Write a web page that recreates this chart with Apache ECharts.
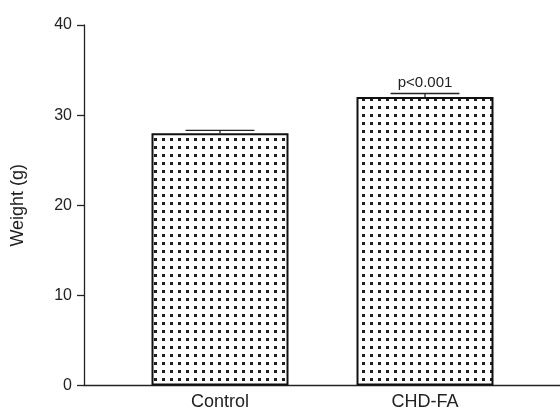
<!DOCTYPE html>
<html><head><meta charset="utf-8">
<script src="https://cdn.jsdelivr.net/npm/echarts@6/dist/echarts.min.js"></script>
<style>html,body{margin:0;padding:0;background:#fff}#c{width:560px;height:413px}</style>
</head><body><div id="c"></div>
<script>
const categories = ['Control', 'CHD-FA'];
const weights = [28.0, 32.0];
const errors = [0.3, 0.4];
const annotations = ['', 'p<0.001'];
const yMin = 0, yMax = 40, yStep = 10;

function dotPattern() {
  const c = document.createElement('canvas');
  c.width = 8; c.height = 8;
  const g = c.getContext('2d');
  g.fillStyle = '#ffffff'; g.fillRect(0, 0, 8, 8);
  g.fillStyle = '#1e1e1e'; g.fillRect(2, 2, 3, 3);
  return c;
}

const FONT = 'Liberation Sans, Arial, sans-serif';
const TXT = '#222';
const chart = echarts.init(document.getElementById('c'), null, {renderer: 'canvas'});
chart.setOption({
  animation: false,
  backgroundColor: '#fff',
  grid: [
    {left: 84, right: 0, top: 25, bottom: 27.5},
    {left: 117.5, right: 32.5, top: 25, bottom: 27.5}
  ],
  xAxis: [
    {type: 'value', gridIndex: 0, min: 0, max: 1, axisLine: {show: true, lineStyle: {color: '#222', width: 1.3}},
     axisTick: {show: false}, axisLabel: {show: false}, splitLine: {show: false}},
    {type: 'category', gridIndex: 1, data: categories, axisLine: {show: false}, axisTick: {show: false},
     axisLabel: {margin: 8, fontSize: 18, color: TXT, fontFamily: FONT}}
  ],
  yAxis: [
    {type: 'value', gridIndex: 0, min: yMin, max: yMax, interval: yStep,
     name: 'Weight (g)', nameLocation: 'middle', nameGap: 57,
     nameTextStyle: {fontSize: 18, color: TXT, fontFamily: FONT},
     axisLine: {show: true, lineStyle: {color: '#222', width: 1.3}},
     axisTick: {show: true, length: 7, lineStyle: {color: '#222', width: 1.3}},
     axisLabel: {margin: 12, fontSize: 16, color: TXT, fontFamily: FONT},
     splitLine: {show: false}},
    {type: 'value', gridIndex: 1, min: yMin, max: yMax, show: false}
  ],
  series: [
    {type: 'bar', xAxisIndex: 1, yAxisIndex: 1, data: weights, barWidth: 137,
     itemStyle: {color: {image: dotPattern(), repeat: 'repeat'}, borderColor: '#111', borderWidth: 2}},
    {type: 'custom', xAxisIndex: 1, yAxisIndex: 1, z: 5,
     data: categories.map((c, i) => [i, weights[i], errors[i]]),
     renderItem: function (params, api) {
       const x = api.value(0), v = api.value(1), e = api.value(2);
       const base = api.coord([x, v]);
       const top = api.coord([x, v + e]);
       const half = api.size([1, 0])[0] * 0.168;
       const style = {stroke: '#222', lineWidth: 1.3};
       const children = [
         {type: 'line', shape: {x1: top[0], y1: base[1], x2: top[0], y2: top[1]}, style: style},
         {type: 'line', shape: {x1: top[0] - half, y1: top[1], x2: top[0] + half, y2: top[1]}, style: style}
       ];
       const t = annotations[params.dataIndex];
       if (t) children.push({type: 'text', style: {text: t, x: top[0], y: top[1] - 3, align: 'center', verticalAlign: 'bottom',
         fontSize: 15, fill: TXT, fontFamily: FONT}});
       return {type: 'group', children: children};
     }}
  ]
});
</script></body></html>
